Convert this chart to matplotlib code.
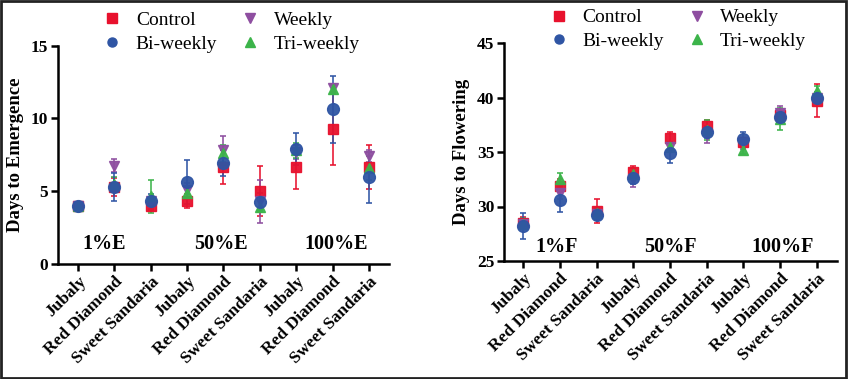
import numpy as np
import matplotlib
matplotlib.use("Agg")
import matplotlib.pyplot as plt
from matplotlib.patches import Rectangle

plt.rcParams['font.family'] = ['Liberation Serif', 'DejaVu Serif']

cultivars = ['Jubaly', 'Red Diamond', 'Sweet Sandaria'] * 3
series = ['Control', 'Weekly', 'Tri-weekly', 'Bi-weekly']

# days to emergence (mean, sd)
emerg_control = [4.0, 5.3, 4.0, 4.33, 6.65, 5.0, 6.65, 9.3, 6.65]
emerg_control_sd = [0, 0.6, 0.3, 0.5, 1.15, 1.7, 1.5, 2.5, 1.5]
emerg_weekly = [4.0, 6.76, 4.3, 5.1, 7.8, 4.3, 7.7, 12.07, 7.42]
emerg_weekly_sd = [0, 0.45, 0.3, 0.5, 1.0, 1.5, 0.5, 0.3, 0.4]
emerg_tri = [4.0, 5.5, 4.65, 4.9, 7.6, 3.94, 7.8, 12.0, 6.6]
emerg_tri_sd = [0, 0.5, 1.15, 0.4, 0.6, 0.4, 0.5, 0.3, 0.8]
emerg_bi = [4.0, 5.3, 4.3, 5.64, 6.96, 4.28, 7.9, 10.64, 5.96]
emerg_bi_sd = [0, 0.95, 0.5, 1.5, 0.9, 0.6, 1.08, 2.3, 1.76]

# days to flowering (mean, sd)
flow_control = [28.53, 31.9, 29.6, 33.2, 36.3, 37.4, 35.9, 38.4, 39.7]
flow_control_sd = [0.5, 0.6, 1.1, 0.5, 0.5, 0.5, 0.4, 0.4, 1.5]
flow_weekly = [28.4, 31.2, 29.3, 32.5, 35.5, 36.6, 35.8, 38.6, 40.0]
flow_weekly_sd = [0.5, 0.5, 0.5, 0.7, 0.4, 0.8, 0.5, 0.6, 0.5]
flow_tri = [28.4, 32.5, 29.4, 33.0, 35.5, 37.0, 35.2, 38.0, 40.6]
flow_tri_sd = [0.5, 0.6, 0.5, 0.5, 0.4, 0.9, 0.4, 1.0, 0.5]
flow_bi = [28.2, 30.56, 29.24, 32.6, 34.9, 36.8, 36.2, 38.25, 40.0]
flow_bi_sd = [1.2, 1.05, 0.5, 0.5, 0.9, 0.5, 0.6, 0.5, 0.5]

emerg_stages = ['1%E', '50%E', '100%E']
flow_stages = ['1%F', '50%F', '100%F']

colors = {'Control': '#e8112d', 'Weekly': '#8e4ea0',
          'Tri-weekly': '#3cb44a', 'Bi-weekly': '#2f55a4'}
markers = {'Control': 's', 'Weekly': 'v', 'Tri-weekly': '^', 'Bi-weekly': 'o'}
msizes = {'Control': 7.5, 'Weekly': 7.5, 'Tri-weekly': 7.5, 'Bi-weekly': 8.5}

fig = plt.figure(figsize=(8.48, 3.79), dpi=100)
ax1 = fig.add_axes([58 / 848, 1 - 264 / 379, 331 / 848, 218.3 / 379])
ax2 = fig.add_axes([504 / 848, 1 - 261 / 379, 333 / 848, 218 / 379])


def draw(ax, data, ylim, yticks, ylabel, stages, stage_x, label_y, xlim):
    x = np.arange(len(cultivars))
    for name in series:
        mean, sd = data[name]
        ax.errorbar(x, mean, yerr=sd, fmt=markers[name], color=colors[name],
                    ms=msizes[name], mec=colors[name], ecolor=colors[name],
                    elinewidth=1.2, capsize=2.5, capthick=1.2, alpha=0.95)
    ax.set_xlim(*xlim)
    ax.set_ylim(*ylim)
    ax.set_yticks(yticks)
    ax.set_xticks(x)
    ax.set_xticklabels(cultivars, rotation=45, ha='right', rotation_mode='anchor',
                       fontsize=12.5, fontweight='bold')
    for lab in ax.get_yticklabels():
        lab.set_fontsize(12.5)
        lab.set_fontweight('bold')
    ax.set_ylabel(ylabel, fontsize=13.5, fontweight='bold', labelpad=5)
    for s in ['top', 'right']:
        ax.spines[s].set_visible(False)
    for s in ['left', 'bottom']:
        ax.spines[s].set_linewidth(1.8)
    ax.tick_params(width=1.8, length=5, pad=2)
    for sx, st in zip(stage_x, stages):
        ax.text(sx, label_y, st, ha='center', va='center',
                fontsize=14.5, fontweight='bold')
    order = ['Control', 'Bi-weekly', 'Weekly', 'Tri-weekly']
    leg_handles = [plt.Line2D([], [], ls='', marker=markers[n], color=colors[n], ms=6.5)
                   for n in order]
    ax.legend(leg_handles, order, ncol=2, frameon=False, loc='upper left',
              bbox_to_anchor=(0.10, 1.21), fontsize=14, handletextpad=0.7,
              columnspacing=1.2, labelspacing=0.3, handlelength=1.0,
              borderpad=0.1)


emerg = {'Control': (emerg_control, emerg_control_sd),
         'Weekly': (emerg_weekly, emerg_weekly_sd),
         'Tri-weekly': (emerg_tri, emerg_tri_sd),
         'Bi-weekly': (emerg_bi, emerg_bi_sd)}
flow = {'Control': (flow_control, flow_control_sd),
        'Weekly': (flow_weekly, flow_weekly_sd),
        'Tri-weekly': (flow_tri, flow_tri_sd),
        'Bi-weekly': (flow_bi, flow_bi_sd)}

draw(ax1, emerg, (0, 15), [0, 5, 10, 15], 'Days to Emergence', emerg_stages,
     [0.72, 3.93, 7.1], 1.4, (-0.55, 8.55))
draw(ax2, flow, (25, 45), [25, 30, 35, 40, 45], 'Days to Flowering', flow_stages,
     [0.9, 4.0, 7.07], 26.3, (-0.52, 8.55))

fig.patches.append(Rectangle((0.001, 0.002), 0.997, 0.995, transform=fig.transFigure,
                             fill=False, edgecolor='#222222', linewidth=2))

fig.savefig('out.png', dpi=100)
